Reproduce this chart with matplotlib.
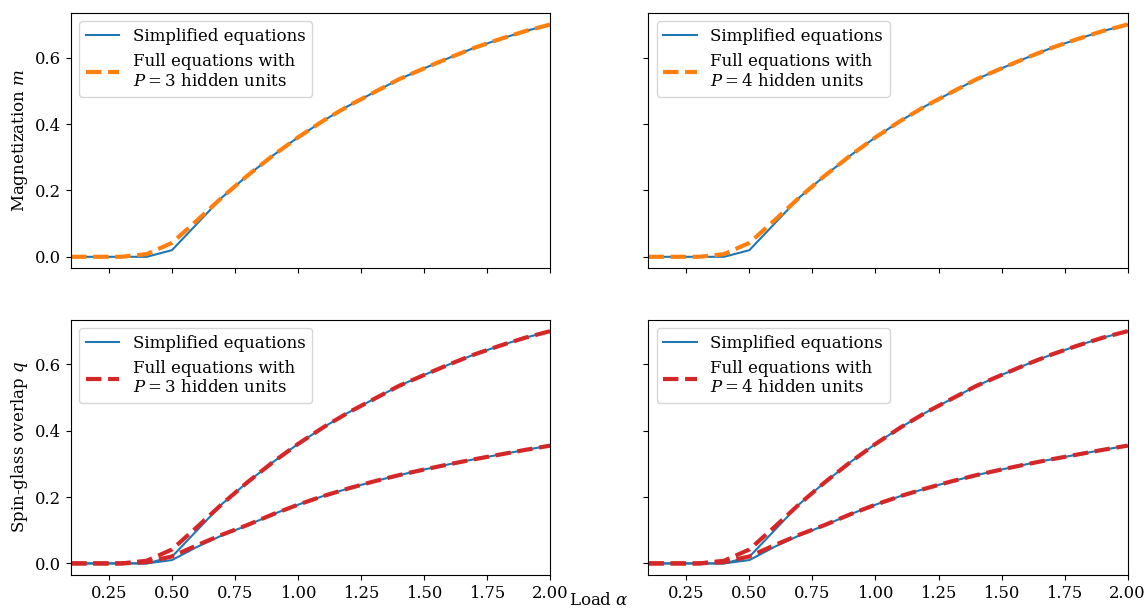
import matplotlib

matplotlib.use("Agg")
import matplotlib.pyplot as plt
import numpy as np
from matplotlib.ticker import MultipleLocator

plt.rcParams["font.family"] = "serif"
plt.rcParams["mathtext.fontset"] = "dejavuserif"
plt.rcParams["font.size"] = 12
plt.rcParams["xtick.labelsize"] = 11.8
plt.rcParams["ytick.labelsize"] = 11.8

# load grid
alpha = np.round(np.arange(0.1, 2.01, 0.1), 2)

# simplified equations: magnetization and the two overlap branches
m_simple = [0.0, 0.0, 0.0, 0.0, 0.02, 0.10, 0.18, 0.245, 0.305, 0.36,
            0.41, 0.455, 0.495, 0.535, 0.568, 0.60, 0.63, 0.656, 0.68, 0.70]
q_low_simple = [0.0, 0.0, 0.0, 0.0, 0.01, 0.05, 0.085, 0.115, 0.148, 0.177,
                0.203, 0.226, 0.247, 0.266, 0.283, 0.299, 0.314, 0.328, 0.342, 0.355]

# full equations, P = 3 and P = 4 hidden units
m_full_p3 = [0.0, 0.0, 0.0, 0.008, 0.042, 0.11, 0.18, 0.245, 0.305, 0.36,
             0.41, 0.455, 0.495, 0.535, 0.568, 0.60, 0.63, 0.656, 0.68, 0.70]
m_full_p4 = [0.0, 0.0, 0.0, 0.008, 0.042, 0.11, 0.18, 0.245, 0.305, 0.36,
             0.41, 0.455, 0.495, 0.535, 0.568, 0.60, 0.63, 0.656, 0.68, 0.70]
q_low_full_p3 = [0.0, 0.0, 0.0, 0.004, 0.021, 0.055, 0.087, 0.116, 0.148, 0.177,
                 0.203, 0.226, 0.247, 0.266, 0.283, 0.299, 0.314, 0.328, 0.342, 0.355]
q_low_full_p4 = [0.0, 0.0, 0.0, 0.004, 0.021, 0.055, 0.087, 0.116, 0.148, 0.177,
                 0.203, 0.226, 0.247, 0.266, 0.283, 0.299, 0.314, 0.328, 0.342, 0.355]

hidden_units = [3, 4]

fig, axes = plt.subplots(2, 2, figsize=(11.46, 6.15), dpi=100, sharex=True, sharey=True)

for col, p in enumerate(hidden_units):
    m_full = m_full_p3 if p == 3 else m_full_p4
    q_full = q_low_full_p3 if p == 3 else q_low_full_p4
    full_label = f"Full equations with\n$P = {p}$ hidden units"

    ax = axes[0, col]
    ax.plot(alpha, m_simple, color="tab:blue", lw=1.5, label="Simplified equations")
    ax.plot(alpha, m_full, color="tab:orange", lw=3, ls="--", label=full_label)
    ax.legend(loc="upper left", fontsize=12)

    ax = axes[1, col]
    ax.plot(alpha, m_simple, color="tab:blue", lw=1.5, label="Simplified equations")
    ax.plot(alpha, q_low_simple, color="tab:blue", lw=1.5)
    ax.plot(alpha, m_full, color="tab:red", lw=3, ls="--", label=full_label)
    ax.plot(alpha, q_full, color="tab:red", lw=3, ls="--")
    ax.legend(loc="upper left", fontsize=12)

axes[0, 0].set_xlim(0.1, 2.0)
axes[0, 0].yaxis.set_major_locator(MultipleLocator(0.2))
axes[0, 0].set_ylabel("Magnetization $m$")
axes[1, 0].set_ylabel("Spin-glass overlap $q$")

fig.subplots_adjust(left=0.062, right=0.984, top=0.979, bottom=0.065, wspace=0.205, hspace=0.2)
fig.text(0.523, 0.024, r"Load $\alpha$", ha="center", va="center", fontsize=12)

fig.savefig("out.png")
